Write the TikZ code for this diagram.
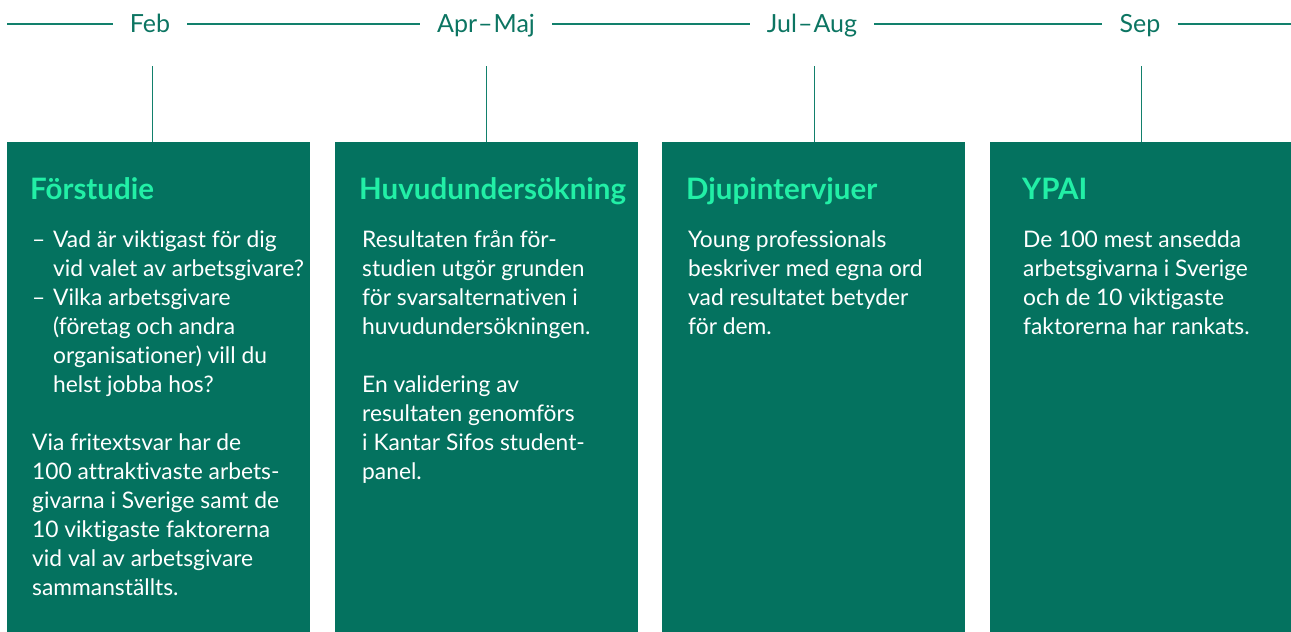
\documentclass[tikz,border=0pt]{standalone}
\usepackage{fontspec}
\setmainfont{Lato}[Ligatures={NoCommon}]
\definecolor{boxgreen}{HTML}{04725F}
\definecolor{mint}{HTML}{22EFA6}
\definecolor{lineteal}{HTML}{12806C}
\definecolor{labelteal}{HTML}{0C7562}
\begin{document}
\begin{tikzpicture}[x=1pt,y=-1pt,
  phasebox/.style={fill=boxgreen, draw=none, anchor=north west, inner sep=0pt,
    minimum width=#1, minimum height=490pt},
  phasebox/.default=303pt,
  heading/.style={anchor=base west, inner sep=0pt, text=mint,
    font=\bfseries\fontsize{29.5}{34}\selectfont},
  bodytext/.style={anchor=north west, inner sep=0pt, align=left, text=white,
    font=\fontsize{22.8}{29}\selectfont},
  month/.style={inner xsep=17pt, inner ysep=0pt, text=labelteal,
    font=\fontsize{25}{28}\selectfont, text height=18pt, text depth=5pt},
  tline/.style={draw=lineteal, line width=1.1pt},
  tick/.style={draw=lineteal, line width=1pt}]
\useasboundingbox (0,0) rectangle (1291,632);

% timeline with month labels
\coordinate (tlstart) at (7,24);
\coordinate (tlend) at (1291,24);
\node[month] (feb) at (150,26) {Feb};
\node[month] (apr) at (486,26) {Apr\kern1pt–\kern1pt Maj};
\node[month] (jul) at (812,26) {Jul\kern1pt–\kern1pt Aug};
\node[month] (sep) at (1140,26) {Sep};
\draw[tline] (tlstart) -- (feb.west |- tlstart);
\draw[tline] (feb.east |- tlstart) -- (apr.west |- tlstart);
\draw[tline] (apr.east |- tlstart) -- (jul.west |- tlstart);
\draw[tline] (jul.east |- tlstart) -- (sep.west |- tlstart);
\draw[tline] (sep.east |- tlstart) -- (tlend);

% phase boxes
\node[phasebox] (b1) at (7,142) {};
\node[phasebox] (b2) at (335,142) {};
\node[phasebox] (b3) at (662,142) {};
\node[phasebox=301pt] (b4) at (990,142) {};

% ticks from the timeline down to the boxes
\coordinate (t1) at (152,66);
\coordinate (t2) at (486,66);
\coordinate (t3) at (814,66);
\coordinate (t4) at (1141,66);
\draw[tick] (t1) -- (t1 |- b1.north);
\draw[tick] (t2) -- (t2 |- b2.north);
\draw[tick] (t3) -- (t3 |- b3.north);
\draw[tick] (t4) -- (t4 |- b4.north);

% headings
\node[heading] (h1) at (30,199) {Förstudie};
\node[heading] (h2) at (359,199) {Huvudundersökning};
\node[heading] (h3) at (686,199) {Djupintervjuer};
\node[heading] (h4) at (1022,199) {YPAI};

% body texts
\newcommand{\dashitem}{\makebox[21pt][l]{–}}
\newcommand{\hang}{\hspace*{21pt}}
\node[bodytext] (x1) at (32,227.2) {\strut\dashitem Vad är viktigast för dig\\
\hang vid valet av arbetsgivare?\\
\dashitem Vilka arbetsgivare\\
\hang (företag och andra\\
\hang organisationer) vill du\\
\hang helst jobba hos?\\[29pt]
Via fritextsvar har de\\
100 attraktivaste arbets-\\
givarna i Sverige samt de\\
10 viktigaste faktorerna\\
vid val av arbetsgivare\\
sammanställts.};

\node[bodytext] (x2) at (362,227.2) {\strut Resultaten från för-\\
studien utgör grunden\\
för svarsalternativen i\\
huvudundersökningen.\\[29pt]
En validering av\\
resultaten genomförs\\
i Kantar Sifos student-\\
panel.};

\node[bodytext] (x3) at (688,227.2) {\strut Young professionals\\
beskriver med egna ord\\
vad resultatet betyder\\
för dem.};

\node[bodytext] (x4) at (1023,227.2) {\strut De 100 mest ansedda\\
arbetsgivarna i Sverige\\
och de 10 viktigaste\\
faktorerna har rankats.};
\end{tikzpicture}
\end{document}
